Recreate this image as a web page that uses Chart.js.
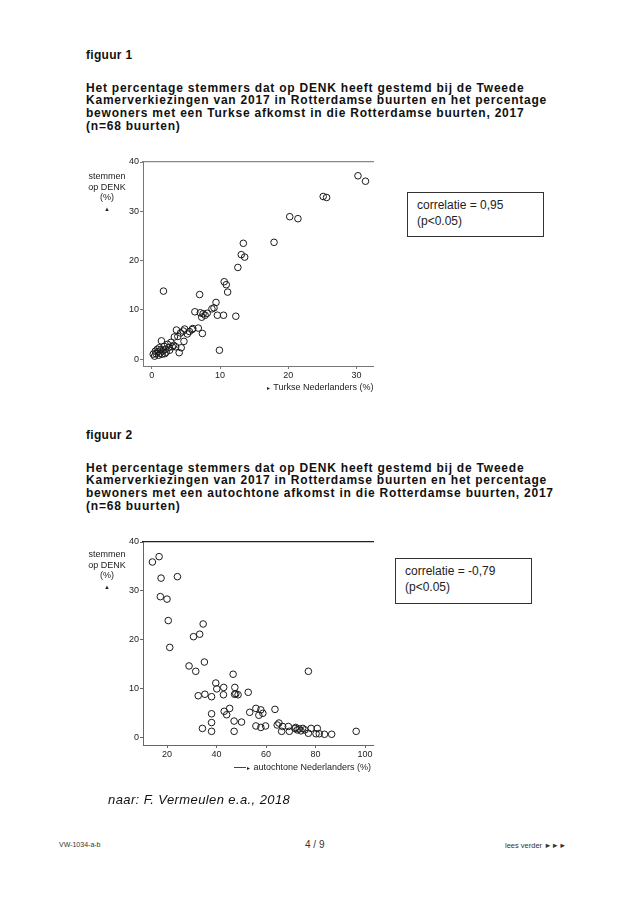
<!DOCTYPE html>
<html>
<head>
<meta charset="utf-8">
<script src="https://cdn.jsdelivr.net/npm/chart.js@4"></script>
<style>
  body { margin: 0; background: #fff; width: 636px; height: 900px; position: relative; font-family: "Liberation Sans", Arial, sans-serif; color: #111; }
  .abs { position: absolute; white-space: nowrap; }
  .fig { font-weight: bold; font-size: 12px; line-height: 13px; letter-spacing: 0.3px; }
  .title { font-weight: bold; font-size: 12px; line-height: 12.9px; letter-spacing: 0.78px; }
  .axt { font-size: 9px; line-height: 10.5px; color: #222; text-align: center; }
  .box { border: 1px solid #333; font-size: 12px; line-height: 16px; padding: 4px 9px; box-sizing: border-box; color: #222; }
  canvas { position: absolute; }
</style>
</head>
<body>

<div class="abs fig" style="left:86px; top:48.5px;">figuur 1</div>
<div class="abs title" style="left:86px; top:81.5px;">Het percentage stemmers dat op DENK heeft gestemd bij de Tweede<br>Kamerverkiezingen van 2017 in Rotterdamse buurten en het percentage<br>bewoners met een Turkse afkomst in die Rotterdamse buurten, 2017<br>(n=68 buurten)</div>

<canvas id="chart1" width="330" height="250" style="left:60px; top:150px;"></canvas>
<div class="abs axt" style="left:84px; top:171px; width:46px;">stemmen<br>op DENK<br>(%)<br><span style="font-size:6px;">&#9650;</span></div>
<div class="abs axt" style="left:266px; top:382px;"><span style="font-size:5px;">&#9658;</span> Turkse Nederlanders (%)</div>
<div class="abs box" style="left:407px; top:192px; width:137px; height:45px;">correlatie = 0,95<br>(p&lt;0.05)</div>

<div class="abs fig" style="left:86px; top:428.5px;">figuur 2</div>
<div class="abs title" style="left:86px; top:461.5px;">Het percentage stemmers dat op DENK heeft gestemd bij de Tweede<br>Kamerverkiezingen van 2017 in Rotterdamse buurten en het percentage<br>bewoners met een autochtone afkomst in die Rotterdamse buurten, 2017<br>(n=68 buurten)</div>

<canvas id="chart2" width="330" height="250" style="left:60px; top:530px;"></canvas>
<div class="abs axt" style="left:84px; top:549px; width:46px;">stemmen<br>op DENK<br>(%)<br><span style="font-size:6px;">&#9650;</span></div>
<div class="abs axt" style="left:234px; top:762px;"><span style="display:inline-block; width:12px; border-top:1px solid #444; vertical-align:middle;"></span><span style="font-size:5px;">&#9658;</span> autochtone Nederlanders (%)</div>
<div class="abs box" style="left:395px; top:558px; width:137px; height:46px;">correlatie = -0,79<br>(p&lt;0.05)</div>

<div class="abs" style="left:108px; top:792px; font-size:13px; font-style:italic; letter-spacing:0.4px;">naar: F. Vermeulen e.a., 2018</div>

<div class="abs" style="left:59px; top:841px; font-size:7px; color:#333;">VW-1034-a-b</div>
<div class="abs" style="left:305px; top:839px; font-size:10px; color:#333;">4 / 9</div>
<div class="abs" style="left:505px; top:841px; font-size:7.5px; color:#333;">lees verder &#9658;&#9658;&#9658;</div>

<script>
// ---------------- Data ----------------
const yTicks = [0, 10, 20, 30, 40];

// figuur 1: % Turkse Nederlanders vs % stemmen op DENK
const turkseX = [30.2, 31.3, 25.1, 25.6, 20.2, 21.4, 17.9, 13.4, 13.1, 13.6,
  12.6, 10.6, 10.9, 11.1, 1.7, 7.0, 9.4, 9.1, 8.8, 9.6,
  10.5, 12.3, 6.3, 7.1, 7.5, 7.8, 7.3, 8.1, 9.9, 6.8,
  7.4, 5.9, 4.8, 3.6, 5.2, 4.2, 3.3, 4.7, 1.4, 2.8,
  4.3, 4.0, 3.0, 2.5, 2.0, 1.6, 1.2, 0.6, 0.2, 1.0,
  1.5, 2.1, 0.8, 0.4, 1.8, 3.5, 2.3, 6.0, 3.8, 5.5,
  1.3, 2.6, 0.9, 3.2, 1.9, 4.6, 1.1, 0.5];
const denk1 = [37.2, 36.1, 33.0, 32.8, 28.9, 28.5, 23.7, 23.5, 21.2, 20.7,
  18.6, 15.7, 15.1, 13.6, 13.8, 13.1, 11.5, 10.4, 10.2, 8.9,
  8.9, 8.7, 9.6, 9.4, 9.2, 8.9, 8.5, 9.3, 1.8, 6.3,
  5.2, 6.0, 6.1, 5.9, 5.1, 5.3, 4.5, 3.6, 3.7, 3.4,
  2.3, 1.3, 2.5, 2.4, 2.0, 1.7, 1.2, 1.1, 1.0, 0.8,
  1.0, 1.4, 2.0, 0.6, 2.6, 2.5, 3.0, 6.2, 4.6, 5.6,
  1.9, 1.8, 1.5, 2.8, 1.1, 5.7, 2.3, 1.6];
const xTicks1 = [0, 10, 20, 30];

// figuur 2: % autochtone Nederlanders vs % stemmen op DENK
const autochtoneX = [14.1, 16.8, 17.6, 24.2, 17.3, 20.0, 20.5, 21.1, 34.6, 30.7,
  33.2, 28.9, 31.6, 35.1, 46.7, 77.1, 39.7, 40.1, 42.9, 47.4,
  42.8, 47.8, 48.7, 47.3, 32.6, 35.3, 38.0, 52.8, 45.3, 43.1,
  44.1, 38.0, 38.0, 34.3, 38.0, 47.1, 50.1, 47.1, 53.4, 55.9,
  57.1, 57.9, 58.7, 55.9, 57.9, 59.8, 63.6, 64.5, 65.2, 66.7,
  66.3, 69.0, 69.4, 71.7, 72.6, 73.4, 74.1, 74.8, 75.7, 77.1,
  78.2, 80.7, 80.2, 81.5, 83.6, 86.5, 96.4, 72.0];
const denk2 = [35.9, 37.0, 32.6, 32.9, 28.8, 28.3, 23.9, 18.4, 23.2, 20.6,
  21.1, 14.6, 13.5, 15.4, 12.9, 13.5, 11.1, 9.9, 10.2, 10.2,
  8.7, 8.9, 8.7, 8.8, 8.5, 8.8, 8.3, 9.2, 5.9, 5.3,
  4.6, 4.8, 3.0, 1.8, 1.2, 3.3, 3.1, 1.2, 5.1, 5.9,
  4.5, 5.6, 4.9, 2.3, 2.0, 2.3, 5.7, 2.5, 2.9, 2.2,
  1.2, 2.2, 1.2, 1.8, 1.5, 1.7, 1.3, 1.8, 1.5, 0.8,
  1.8, 1.8, 0.7, 0.7, 0.6, 0.6, 1.2, 2.0];
const xTicks2 = [20, 40, 60, 80, 100];

// ---------------- Chart builder ----------------
const tickFont = { family: '"Liberation Sans", Arial, sans-serif', size: 9 };

function makeScatter(id, xs, ys, xTicks, xMin, xMax, yMin, xAxisHeight, lineColor, topColor) {
  const points = xs.map((x, i) => ({ x, y: ys[i] }));
  return new Chart(document.getElementById(id), {
    type: 'scatter',
    data: {
      datasets: [{
        data: points,
        pointStyle: 'circle',
        pointRadius: 3.3,
        borderWidth: 1,
        borderColor: '#1a1a1a',
        backgroundColor: 'rgba(0,0,0,0)'
      }]
    },
    options: {
      responsive: false,
      animation: false,
      devicePixelRatio: 1,
      layout: { padding: { top: 12, right: 17, left: 0, bottom: 0 } },
      plugins: { legend: { display: false }, tooltip: { enabled: false } },
      scales: {
        x: {
          type: 'linear', min: xMin, max: xMax,
          afterBuildTicks: s => { s.ticks = xTicks.map(v => ({ value: v })); },
          afterFit: s => { s.height = xAxisHeight; },
          grid: { drawOnChartArea: false, drawTicks: true, tickLength: 3, color: lineColor },
          border: { color: lineColor, width: 1 },
          ticks: { font: tickFont, color: '#222', padding: 1, maxRotation: 0 }
        },
        xTop: {
          type: 'linear', position: 'top', min: xMin, max: xMax,
          afterFit: s => { s.height = 0; },
          grid: { display: false },
          border: { color: topColor, width: 1.3 },
          ticks: { display: false }
        },
        y: {
          type: 'linear', min: yMin, max: 40,
          afterBuildTicks: s => { s.ticks = yTicks.map(v => ({ value: v })); },
          afterFit: s => { s.width = 83; },
          grid: { drawOnChartArea: false, drawTicks: true, tickLength: 3, color: lineColor },
          border: { color: lineColor, width: 1 },
          ticks: { font: tickFont, color: '#222', padding: 1 }
        }
      }
    }
  });
}

makeScatter('chart1', turkseX, denk1, xTicks1, -1.3, 32.4, -1.4, 34, '#777', '#888');
makeScatter('chart2', autochtoneX, denk2, xTicks2, 10.3, 103.2, -1.6, 35, '#666', '#222');
</script>
</body>
</html>
